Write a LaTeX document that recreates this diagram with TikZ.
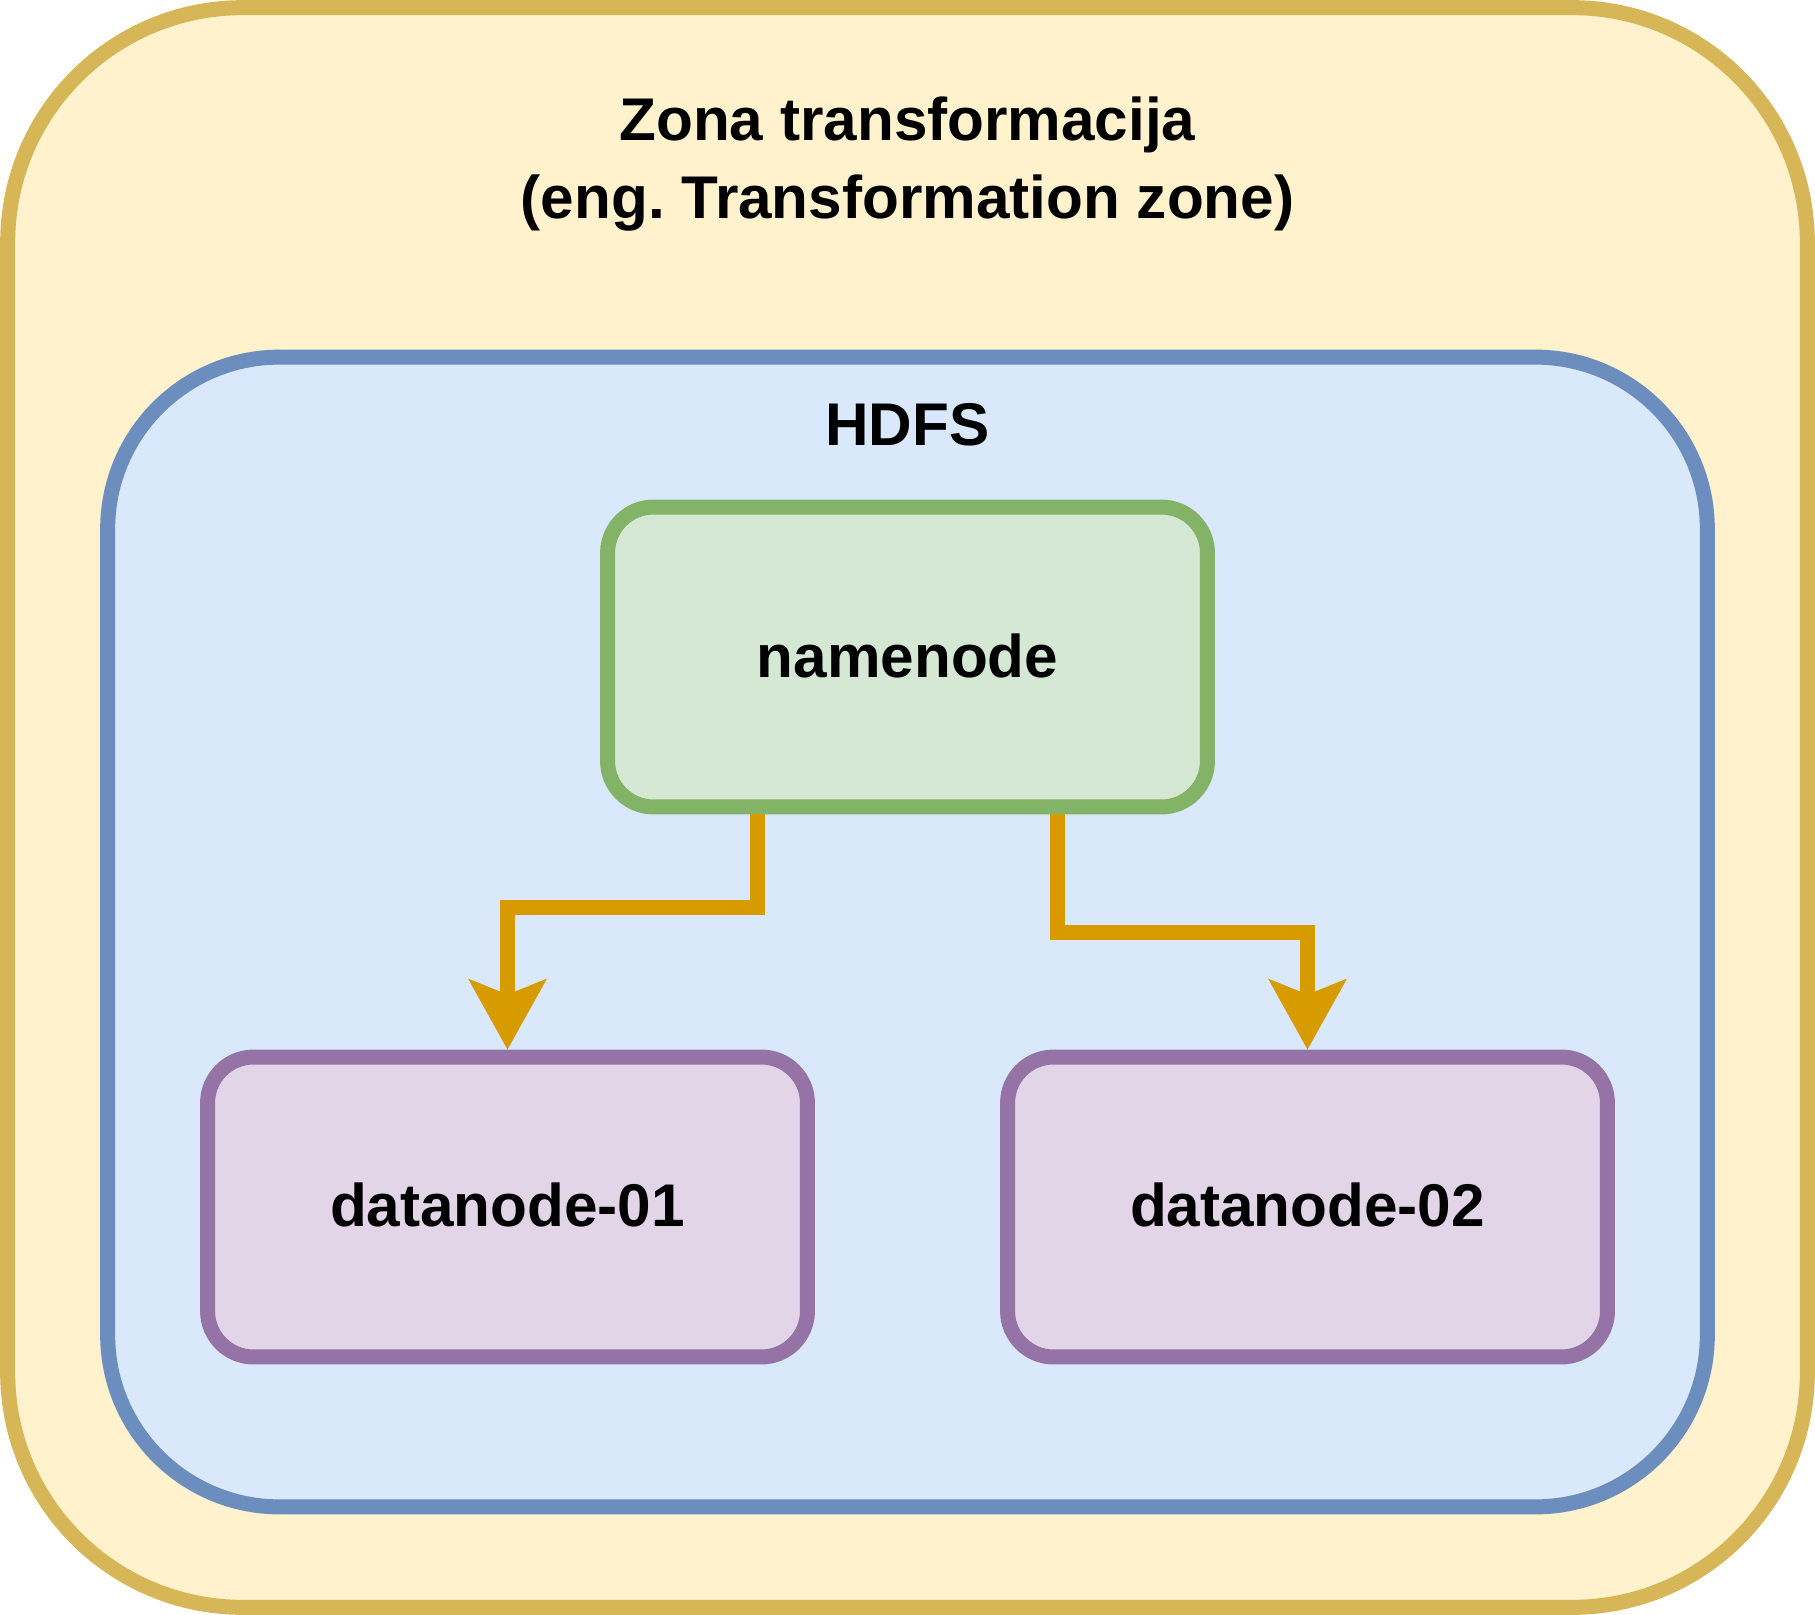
\documentclass[tikz,border=0pt]{standalone}
\usepackage{fontspec}
\setmainfont{Liberation Sans}
\usetikzlibrary{arrows.meta}
\frenchspacing

\definecolor{zonefill}{HTML}{FFF2CC}
\definecolor{zoneline}{HTML}{D6B656}
\definecolor{hdfsfill}{HTML}{DAE8FC}
\definecolor{hdfsline}{HTML}{6C8EBF}
\definecolor{namefill}{HTML}{D5E8D4}
\definecolor{nameline}{HTML}{82B366}
\definecolor{datafill}{HTML}{E1D5E7}
\definecolor{dataline}{HTML}{9673A6}
\definecolor{flowline}{HTML}{D79B00}

\begin{document}
\begin{tikzpicture}[x=0.02cm, y=-0.02cm,
                        line width=0.3cm,
                        every node/.style={font=\fontsize{34.3}{44.6}\selectfont\bfseries},
                        box/.style={draw, rectangle, minimum width=12cm, minimum height=6cm, rounded corners=0.92cm},
                        flow/.style={draw=flowline, -{Stealth[length=1.42cm, width=1.58cm, inset=0.32cm, line width=0pt]}}]
                        \useasboundingbox (0,0) rectangle (1815,1615);

                        \node[draw=zoneline, fill=zonefill, rectangle, rounded corners=4.7cm,
                              minimum width=36cm, minimum height=32cm] (zone) at (907.5,807.5) {};
                        \node[draw=hdfsline, fill=hdfsfill, rectangle, rounded corners=3.44cm,
                              minimum width=32cm, minimum height=23cm] (hdfs) at (907.5,932) {};

                        \node[align=center] (title) at (907.5,164) {Zona transformacija\\(eng. Transformation zone)};
                        \node (hdfslabel) at (907.5,425) {HDFS};

                        \node[box, draw=nameline, fill=namefill] (nn) at (907.5,657) {\raisebox{1.5pt}{namenode}};

                        \foreach \i/\x in {1/507.5, 2/1307.5}{
                            \node[box, draw=dataline, fill=datafill] (dn\i) at (\x,1207) {\raisebox{2.5pt}{datanode-0\i}};
                        }

                        \foreach \s/\v/\h in {%
                            -3cm/1/93,
                            3cm/2/118%
                            }{
                            \draw[flow] ([xshift=\s]nn.south) -- ++(0,\h) -| (dn\v.north);
                        }

                    \end{tikzpicture}
\end{document}
